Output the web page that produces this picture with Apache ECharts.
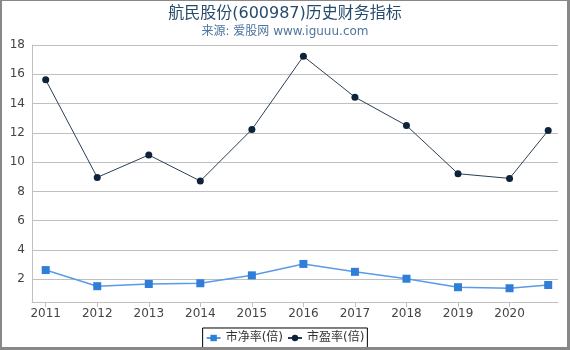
<!DOCTYPE html>
<html>
<head>
<meta charset="utf-8">
<script src="https://cdn.jsdelivr.net/npm/echarts@6/dist/echarts.min.js"></script>
<style>
html,body{margin:0;padding:0;background:#fff;}
#wrap{position:relative;width:570px;height:350px;}
#chart{position:absolute;left:0;top:0;width:570px;height:350px;}
#frame{position:absolute;left:0;top:0;width:570px;height:350px;box-sizing:border-box;border-style:solid;border-color:#888;border-width:1px 3px 3px 2px;pointer-events:none;}
</style>
</head>
<body>
<div id="wrap"><div id="chart"></div><div id="frame"></div></div>
<script>
// Report dates as fractional years (last one is 2020 Q3)
const periods = [2011, 2012, 2013, 2014, 2015, 2016, 2017, 2018, 2019, 2020, 2020.75];
const xTickYears = [2011, 2012, 2013, 2014, 2015, 2016, 2017, 2018, 2019, 2020];
const yTickValues = [2, 4, 6, 8, 10, 12, 14, 16, 18];
const pbValues = [2.63, 1.53, 1.68, 1.73, 2.27, 3.05, 2.51, 2.04, 1.46, 1.39, 1.61];
const peValues = [15.62, 8.96, 10.49, 8.71, 12.23, 17.23, 14.44, 12.5, 9.21, 8.89, 12.16];
const seriesNames = ['市净率(倍)', '市盈率(倍)'];

const FONT = '"DejaVu Sans", "Noto Sans CJK SC", sans-serif';
const chart = echarts.init(document.getElementById('chart'), null, {renderer: 'canvas'});
chart.setOption({
  animation: false,
  textStyle: {fontFamily: FONT},
  title: {
    text: '航民股份(600987)历史财务指标',
    subtext: '来源: 爱股网 www.iguuu.com',
    left: 'center',
    top: 1,
    itemGap: 4,
    textStyle: {fontFamily: FONT, fontSize: 16, fontWeight: 'normal', color: '#274b6d'},
    subtextStyle: {fontFamily: FONT, fontSize: 12, color: '#4d759e'}
  },
  legend: {
    bottom: 2,
    left: 'center',
    data: seriesNames,
    borderColor: '#000',
    borderWidth: 1,
    borderRadius: 0,
    padding: [4, 3, 4, 3],
    itemGap: 4,
    itemWidth: 14,
    itemHeight: 8,
    textStyle: {fontFamily: FONT, fontSize: 12, color: '#333'}
  },
  grid: {left: 32, right: 12, top: 45, bottom: 48, containLabel: false},
  xAxis: {
    type: 'value',
    min: 2010.734,
    max: 2020.94,
    axisLine: {show: true, lineStyle: {color: '#c0c0c0', width: 1}},
    axisTick: {show: true, customValues: xTickYears, length: 5, lineStyle: {color: '#c0c0c0'}},
    axisLabel: {customValues: xTickYears, color: '#444', fontSize: 12, margin: 6, fontFamily: FONT,
      formatter: v => String(Math.round(v))},
    splitLine: {show: false}
  },
  yAxis: {
    type: 'value',
    min: 0.45,
    max: 18,
    axisLine: {show: true, lineStyle: {color: '#c0c0c0', width: 1}},
    axisTick: {show: false, customValues: yTickValues},
    axisLabel: {customValues: yTickValues, color: '#444', fontSize: 12, margin: 7, fontFamily: FONT,
      formatter: v => String(Math.round(v))},
    splitLine: {show: true, lineStyle: {color: '#c0c0c0', width: 1}}
  },
  series: [
    {
      name: seriesNames[0],
      type: 'line',
      data: periods.map((p, i) => [p, pbValues[i]]),
      symbol: 'rect',
      symbolSize: 8,
      itemStyle: {color: '#2f7ed8'},
      lineStyle: {color: '#5a9ae6', width: 1.5}
    },
    {
      name: seriesNames[1],
      type: 'line',
      data: periods.map((p, i) => [p, peValues[i]]),
      symbol: 'circle',
      symbolSize: 7,
      itemStyle: {color: '#0d233a'},
      lineStyle: {color: '#2a3f55', width: 1}
    }
  ]
});
</script>
</body>
</html>
